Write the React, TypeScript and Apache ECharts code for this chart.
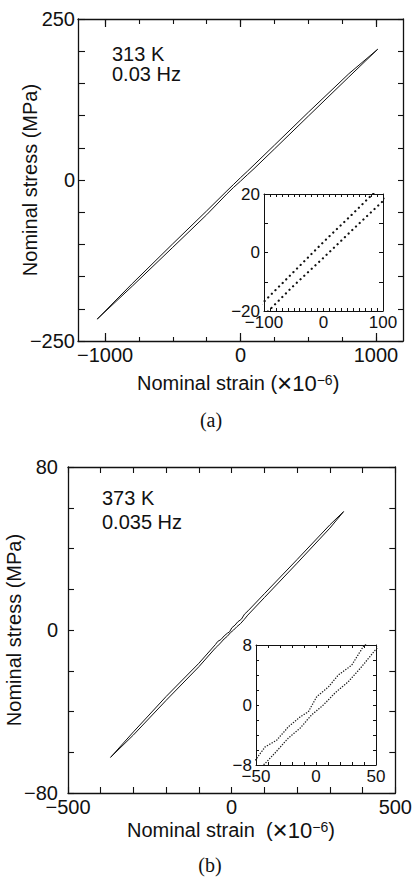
import React, { useEffect, useRef } from "react";
import * as echarts from "echarts";

// ---------- (a) 313 K, 0.03 Hz ----------
const strainA_upper = [-1058, -800, -500, -250, -100, -50, 0, 50, 100, 250, 500, 800, 1013];
const stressA_upper = [-216, -161, -99, -48, -16.8, -6.6, 3.6, 13.4, 23.5, 54, 105, 165, 203];
const strainA_lower = [-1058, -800, -500, -250, -100, -50, 0, 50, 100, 250, 500, 800, 1013];
const stressA_lower = [-216, -165, -104.5, -54, -21.5, -11.3, -1.8, 8, 17.6, 48, 99, 160, 203];

// ---------- (b) 373 K, 0.035 Hz ----------
const strainB_upper = [-370, -300, -200, -100, -49.4, -42.5, -32.8, -23, -13.3, -6.4, 0.6, 10.3, 18.6, 29.7, 39.4, 50, 100, 200, 300, 342];
const stressB_upper = [-62.5, -50, -32.6, -16.3, -7.1, -5.6, -4.7, -2.9, -1.6, -0.9, 1.1, 2.4, 4.0, 5.3, 7.8, 9.4, 17.8, 34.6, 51.6, 58.1];
const strainB_lower = [-370, -300, -200, -100, -50, -42.5, -34.2, -23, -13.3, -3.6, 6.1, 15.8, 26.9, 38, 49.2, 100, 200, 300, 342];
const stressB_lower = [-62.5, -51.5, -34.5, -18, -8.9, -7.8, -6.4, -4.4, -3.1, -1.3, 0, 1.6, 3.1, 5.1, 7.3, 15.9, 32.8, 50, 58.1];

// ---------- ticks & labels ----------
const xTicksA = [-1000, -750, -500, -250, 0, 250, 500, 750, 1000];
const xMajorTicksA = [-1000, 0, 1000];
const xLabelsA = [-1000, 0, 1000];
const yLabelsA = [-250, 0, 250];
const xLabelsInsetA = [-100, 0, 100];
const yLabelsInsetA = [-20, 0, 20];
const xLabelsB = [-500, 0, 500];
const yLabelsB = [-80, 0, 80];
const xLabelsInsetB = [-50, 0, 50];
const yLabelsInsetB = [-8, 0, 8];

const FONT = "'Liberation Sans', Arial, Helvetica, sans-serif";
const SERIF = "'Liberation Serif', 'Times New Roman', serif";
const INK = "#111";

const minus = (v: number) => String(v).replace("-", "\u2212");
const pairs = (xs: number[], ys: number[]) => xs.map((x, i) => [x, ys[i]]);

function axisBase(gridIndex: number, position: string, min: number, max: number, extra: any = {}) {
  return {
    type: "value",
    gridIndex,
    position,
    min,
    max,
    splitLine: { show: false },
    axisLine: { show: true, onZero: false, lineStyle: { color: INK, width: 1.3 } },
    axisTick: { show: false },
    axisLabel: { show: false },
    ...extra,
  };
}

const thinLine = { show: true, onZero: false, lineStyle: { color: INK, width: 1 } };

function tick(length: number, custom?: number[], width = 1.1) {
  const t: any = { show: true, inside: true, length, lineStyle: { color: INK, width } };
  if (custom) t.customValues = custom;
  return t;
}

function label(custom: number[], fontSize: number, margin: number) {
  return {
    show: true,
    customValues: custom,
    formatter: (v: number) => minus(v),
    fontSize,
    margin,
    color: INK,
    fontFamily: FONT,
  };
}

export default function App() {
  const ref = useRef<HTMLDivElement>(null);

  useEffect(() => {
    if (!ref.current) return;
    const chart = echarts.init(ref.current, undefined, { renderer: "svg" });

    const grids = [
      { left: 78, top: 19, width: 325, height: 322 },
      { left: 264, top: 194, width: 119, height: 117, show: true, backgroundColor: "#fff", borderWidth: 0 },
      { left: 68, top: 467, width: 329, height: 326 },
      { left: 256, top: 645, width: 120, height: 120, show: true, backgroundColor: "#fff", borderWidth: 0 },
    ];

    const xAxis = [
      // main a
      axisBase(0, "bottom", -1200, 1200, { axisTick: tick(8, xMajorTicksA, 1.2), axisLabel: label(xLabelsA, 20, 4) }),
      axisBase(0, "bottom", -1200, 1200, { axisLine: { show: false, onZero: false }, axisTick: tick(4, xTicksA) }),
      axisBase(0, "top", -1200, 1200, { axisTick: tick(5, xTicksA) }),
      axisBase(0, "top", -1200, 1200, { axisLine: { show: false, onZero: false }, axisTick: tick(8, xMajorTicksA, 1.2) }),
      // inset a
      axisBase(1, "bottom", -100, 100, { interval: 10, axisLine: thinLine, axisTick: tick(3, undefined, 1), axisLabel: label(xLabelsInsetA, 17, 3) }),
      axisBase(1, "top", -100, 100, { interval: 10, axisLine: thinLine, axisTick: tick(3, undefined, 1) }),
      // main b
      axisBase(2, "bottom", -500, 500, { interval: 100, axisTick: tick(6), axisLabel: label(xLabelsB, 20, 4) }),
      axisBase(2, "top", -500, 500, { interval: 100, axisTick: tick(6) }),
      // inset b
      axisBase(3, "bottom", -50, 50, { interval: 10, axisLine: thinLine, axisTick: tick(3, undefined, 1), axisLabel: label(xLabelsInsetB, 17, 3) }),
      axisBase(3, "top", -50, 50, { interval: 10, axisLine: thinLine, axisTick: tick(3, undefined, 1) }),
    ];

    const yAxis = [
      // main a
      axisBase(0, "left", -250, 250, { interval: 50, axisTick: tick(7), axisLabel: label(yLabelsA, 20, 3) }),
      axisBase(0, "right", -250, 250, { interval: 50, axisTick: tick(5) }),
      // inset a
      axisBase(1, "left", -20, 20, { interval: 10, axisLine: thinLine, axisTick: tick(4, undefined, 1), axisLabel: label(yLabelsInsetA, 17, 4) }),
      axisBase(1, "right", -20, 20, { interval: 10, axisLine: thinLine, axisTick: tick(4, undefined, 1) }),
      // main b
      axisBase(2, "left", -80, 80, { interval: 20, axisTick: tick(6), axisLabel: label(yLabelsB, 20, 10) }),
      axisBase(2, "right", -80, 80, { interval: 20, axisTick: tick(6) }),
      // inset b
      axisBase(3, "left", -8, 8, { interval: 2, axisLine: thinLine, axisTick: tick(3, undefined, 1), axisLabel: label(yLabelsInsetB, 17, 4) }),
      axisBase(3, "right", -8, 8, { interval: 2, axisLine: thinLine, axisTick: tick(3, undefined, 1) }),
    ];

    const solid = { color: INK, width: 1 };
    const dotsA = { color: INK, width: 2.2, type: [0.1, 5], cap: "round" };
    const dotsB = { color: "#222", width: 1.4, type: [0.1, 2.6], cap: "round" };

    const mk = (name: string, data: number[][], xi: number, yi: number, ls: any) => ({
      name,
      type: "line",
      xAxisIndex: xi,
      yAxisIndex: yi,
      data,
      symbol: "none",
      clip: true,
      lineStyle: ls,
      silent: true,
    });

    const series = [
      mk("a upper", pairs(strainA_upper, stressA_upper), 0, 0, solid),
      mk("a lower", pairs(strainA_lower, stressA_lower), 0, 0, solid),
      mk("a inset upper", pairs(strainA_upper, stressA_upper), 4, 2, dotsA),
      mk("a inset lower", pairs(strainA_lower, stressA_lower), 4, 2, dotsA),
      mk("b upper", pairs(strainB_upper, stressB_upper), 6, 4, solid),
      mk("b lower", pairs(strainB_lower, stressB_lower), 6, 4, solid),
      mk("b inset upper", pairs(strainB_upper, stressB_upper), 8, 6, dotsB),
      mk("b inset lower", pairs(strainB_lower, stressB_lower), 8, 6, dotsB),
    ];

    const txt = (text: string, x: number, y: number, extra: any = {}, styleExtra: any = {}) => ({
      type: "text",
      x,
      y,
      ...extra,
      style: {
        text,
        fill: INK,
        fontSize: 20,
        fontFamily: FONT,
        align: "left",
        verticalAlign: "middle",
        ...styleExtra,
      },
    });

    const rich = {
      n: { fontSize: 20, fontFamily: FONT, fill: INK, lineHeight: 20 },
      x: { fontSize: 26, fontFamily: FONT, fill: INK, lineHeight: 20 },
      t: { fontSize: 22, fontFamily: FONT, fill: INK, lineHeight: 20 },
      s: { fontSize: 14, fontFamily: FONT, fill: INK, lineHeight: 10, verticalAlign: "top" },
    };

    const graphic = [
      txt("313 K", 112, 54),
      txt("0.03 Hz", 112, 74),
      txt("Nominal stress (MPa)", 30, 180, { rotation: Math.PI / 2 }, { align: "center" }),
      txt("", 137, 383, {}, { text: "{n|Nominal strain (}{x|\u00d7}{t|10}{s|\u22126}{n|)}", rich }),
      txt("(a)", 211, 420, {}, { align: "center", fontFamily: SERIF }),

      txt("373 K", 102, 498),
      txt("0.035 Hz", 102, 522),
      txt("Nominal stress (MPa)", 14, 630, { rotation: Math.PI / 2 }, { align: "center" }),
      txt("", 127, 830, {}, { text: "{n|Nominal strain  (}{x|\u00d7}{t|10}{s|\u22126}{n|)}", rich }),
      txt("(b)", 210, 865, {}, { align: "center", fontFamily: SERIF }),
    ];

    chart.setOption({
      animation: false,
      backgroundColor: "#fff",
      grid: grids,
      xAxis,
      yAxis,
      series,
      graphic,
    });

    return () => chart.dispose();
  }, []);

  return (
    <div
      ref={ref}
      style={{ position: "absolute", left: 0, top: 0, width: 415, height: 877, background: "#fff" }}
    />
  );
}
